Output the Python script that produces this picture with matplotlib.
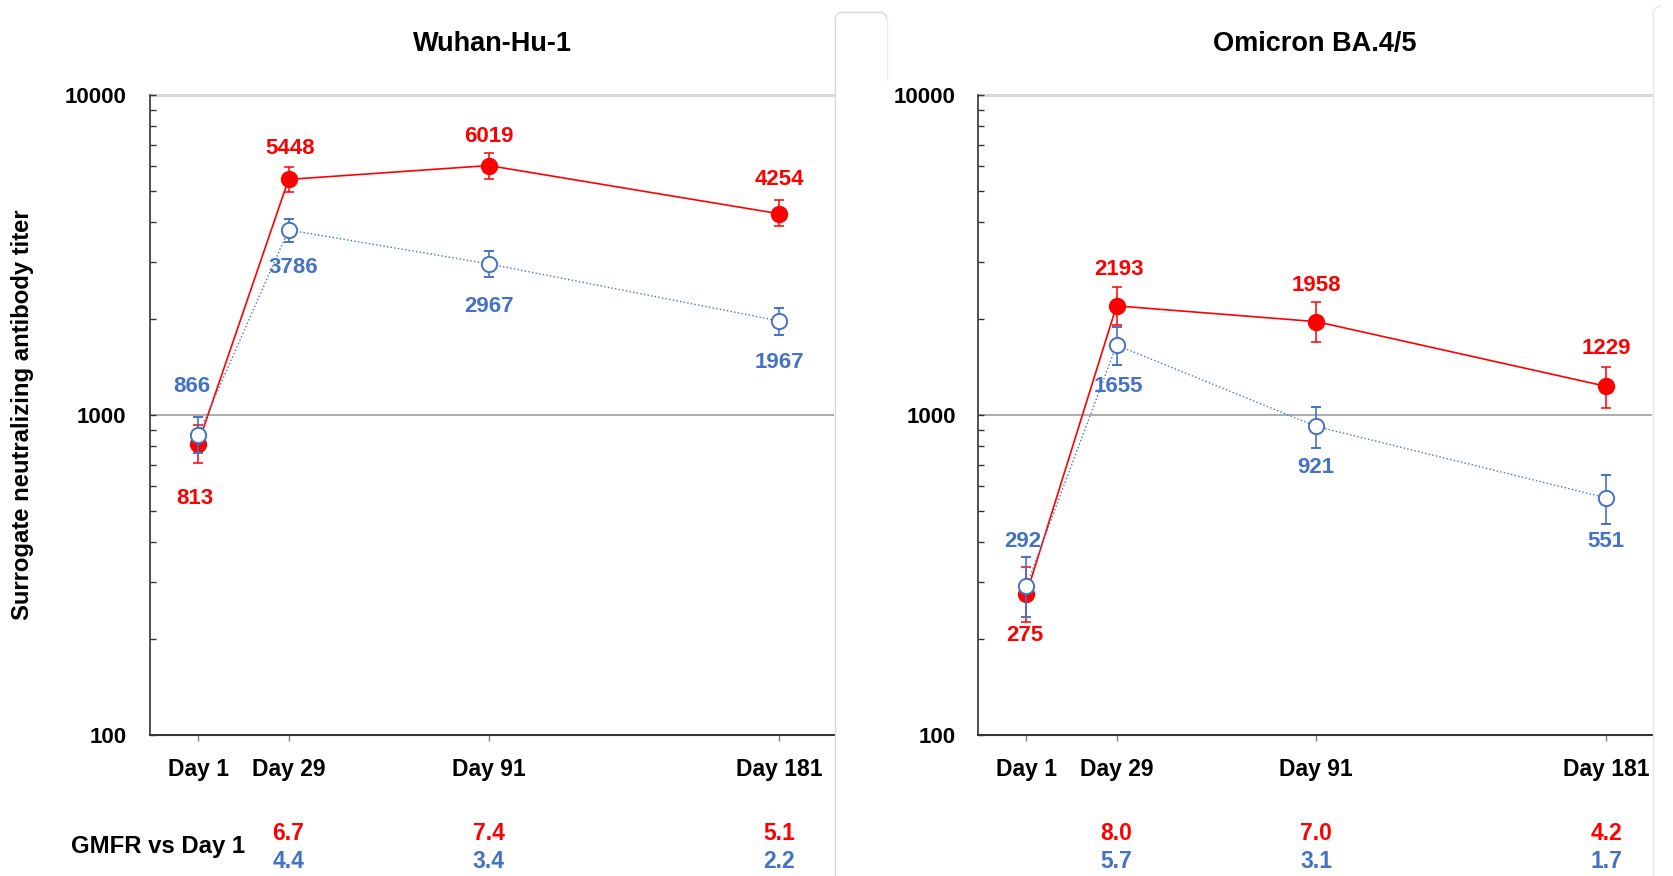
import matplotlib
matplotlib.use('Agg')
import matplotlib.pyplot as plt
import matplotlib.transforms as mtransforms
from matplotlib.lines import Line2D
from matplotlib.ticker import LogLocator, NullFormatter
from matplotlib.patches import Arc
import numpy as np

plt.rcParams['font.family'] = ['Liberation Sans', 'DejaVu Sans']
plt.rcParams['font.weight'] = 'bold'

# ---------------- data ----------------
days = [1, 29, 91, 181]
day_labels = ['Day 1', 'Day 29', 'Day 91', 'Day 181']
panel_titles = ['Wuhan-Hu-1', 'Omicron BA.4/5']

wuhan_red = [813, 5448, 6019, 4254]
wuhan_red_lo = [708, 4966, 5463, 3890]
wuhan_red_hi = [930, 5970, 6574, 4710]
wuhan_blue = [866, 3786, 2967, 1967]
wuhan_blue_lo = [760, 3480, 2692, 1778]
wuhan_blue_hi = [986, 4098, 3254, 2158]

omicron_red = [275, 2193, 1958, 1229]
omicron_red_lo = [225, 1910, 1694, 1052]
omicron_red_hi = [334, 2507, 2250, 1413]
omicron_blue = [292, 1655, 921, 551]
omicron_blue_lo = [234, 1433, 791, 456]
omicron_blue_hi = [359, 1889, 1057, 649]

wuhan_gmfr_red = [6.7, 7.4, 5.1]
wuhan_gmfr_blue = [4.4, 3.4, 2.2]
omicron_gmfr_red = [8.0, 7.0, 4.2]
omicron_gmfr_blue = [5.7, 3.1, 1.7]

# label offsets in pixels (dx, dy) - styling
wuhan_red_off = [(-3, -55), (2, 31), (0, 29), (0, 34)]
wuhan_blue_off = [(-6, 48), (5, -38), (0, -43), (0, -42)]
omicron_red_off = [(-1, -41), (2, 36), (0, 36), (0, 38)]
omicron_blue_off = [(-4, 45), (2, -42), (0, -41), (0, -44)]

RED = '#FF0000'
BLUE = '#4472C4'
W, H = 1673, 876

fig = plt.figure(figsize=(W / 100, H / 100), dpi=100)


def fx(x):
    return x / W


def fy(y):
    return 1 - y / H


def panel(rect, xlim, title, red, red_lo, red_hi, blue, blue_lo, blue_hi,
          red_off, blue_off, g_red, g_blue, tick_pad):
    ax = fig.add_axes(rect)
    ax.set_yscale('log')
    ax.set_ylim(100, 10000)
    ax.set_xlim(*xlim)
    for s in ['top', 'right']:
        ax.spines[s].set_visible(False)
    ax.spines['left'].set_color('#333333')
    ax.spines['left'].set_linewidth(1.2)
    ax.spines['bottom'].set_color('#333333')
    ax.spines['bottom'].set_linewidth(1.5)

    ax.axhline(1000, color='#A6A6A6', lw=1.3, zorder=1)
    ax.axhline(10000, color='#D9D9D9', lw=2.2, zorder=1, clip_on=False)

    ax.set_yticks([100, 1000, 10000])
    ax.set_yticklabels(['100', '1000', '10000'])
    ax.yaxis.set_minor_locator(LogLocator(base=10, subs=np.arange(2, 10)))
    ax.yaxis.set_minor_formatter(NullFormatter())
    ax.tick_params(axis='y', which='both', direction='in', length=4.3,
                   width=1, color='#333333')
    ax.tick_params(axis='y', which='major', pad=tick_pad, labelsize=16)

    ax.set_xticks(days)
    ax.set_xticklabels(day_labels)
    ax.tick_params(axis='x', direction='out', length=4.5, width=1,
                   color='#808080', pad=12, labelsize=16.5)

    r = np.array(red)
    ax.errorbar(days, r, yerr=[r - np.array(red_lo), np.array(red_hi) - r],
                fmt='o-', color=RED, ms=11.5, lw=1.2, elinewidth=1.1,
                capsize=3.3, capthick=1.1, zorder=3)
    b = np.array(blue)
    ax.errorbar(days, b, yerr=[b - np.array(blue_lo), np.array(blue_hi) - b],
                fmt='o:', color=BLUE, mfc='white', mec=BLUE, mew=1.4,
                ms=11, lw=1.0, elinewidth=1.2, capsize=3.3, capthick=1.2,
                zorder=4)

    for d, v, (dx, dy) in zip(days, red, red_off):
        ax.annotate(str(v), (d, v), xytext=(dx, dy), textcoords='offset pixels',
                    ha='center', va='center', color=RED, fontsize=16,
                    fontweight='bold', zorder=6)
    for d, v, (dx, dy) in zip(days, blue, blue_off):
        ax.annotate(str(v), (d, v), xytext=(dx, dy), textcoords='offset pixels',
                    ha='center', va='center', color=BLUE, fontsize=16,
                    fontweight='bold', zorder=6)

    ax.text(0.5, 1 + 51 / 640, title, transform=ax.transAxes, ha='center',
            va='center', fontsize=19.5, fontweight='bold')

    trans = mtransforms.blended_transform_factory(ax.transData, ax.transAxes)
    for d, gr, gb in zip(days[1:], g_red, g_blue):
        ax.text(d, -99 / 640, f'{gr:.1f}', transform=trans, ha='center',
                va='center', color=RED, fontsize=16.5, fontweight='bold',
                clip_on=False)
        ax.text(d, -126 / 640, f'{gb:.1f}', transform=trans, ha='center',
                va='center', color=BLUE, fontsize=16.5, fontweight='bold',
                clip_on=False)
    return ax


bottom = 1 - 735 / H
height = 640 / H
panel([fx(150), bottom, (834 - 150) / W, height], (-13.9, 197.9),
      panel_titles[0], wuhan_red, wuhan_red_lo, wuhan_red_hi,
      wuhan_blue, wuhan_blue_lo, wuhan_blue_hi, wuhan_red_off, wuhan_blue_off,
      wuhan_gmfr_red, wuhan_gmfr_blue, 17)
panel([fx(978), bottom, (1652 - 978) / W, height], (-14.0, 195.2),
      panel_titles[1], omicron_red, omicron_red_lo, omicron_red_hi,
      omicron_blue, omicron_blue_lo, omicron_blue_hi, omicron_red_off,
      omicron_blue_off, omicron_gmfr_red, omicron_gmfr_blue, 16)

fig.text(fx(23), fy(415), 'Surrogate neutralizing antibody titer', rotation=90,
         ha='center', va='center', fontsize=17.2, fontweight='bold')
fig.text(fx(158), fy(846), 'GMFR vs Day 1', ha='center', va='center',
         fontsize=17.2, fontweight='bold')

# screenshot card borders
card = '#D9D9D9'
fig.add_artist(Line2D([fx(835), fx(835)], [fy(20), 0], color=card, lw=1.0,
                      transform=fig.transFigure))
fig.add_artist(Line2D([fx(843), fx(879)], [fy(12), fy(12)], color=card, lw=1.0,
                      transform=fig.transFigure))
fig.add_artist(Line2D([fx(887), fx(887)], [fy(20), fy(80)], color='#EEEEEE',
                      lw=1.0, transform=fig.transFigure))
fig.add_artist(Line2D([fx(1653), fx(1653)], [fy(14), 0], color='#E6E6E6',
                      lw=1.0, transform=fig.transFigure))
for cx, t1, t2 in [(843, 90, 180), (879, 0, 90)]:
    fig.add_artist(Arc((fx(cx), fy(20)), 16 / W, 16 / H, theta1=t1, theta2=t2,
                       color=card, lw=1.0, transform=fig.transFigure))
fig.add_artist(Arc((fx(1661), fy(14)), 16 / W, 16 / H, theta1=90, theta2=180,
                   color='#E6E6E6', lw=1.0, transform=fig.transFigure))

fig.savefig('out.png', dpi=100)
